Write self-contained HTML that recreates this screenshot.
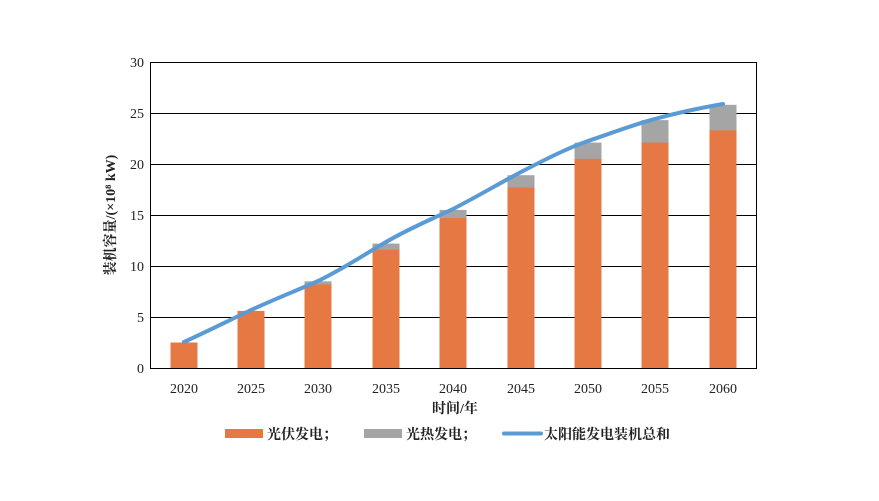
<!DOCTYPE html>
<html><head><meta charset="utf-8"><style>body{margin:0;background:#fff}svg{display:block}</style></head>
<body><svg width="879" height="501" xmlns="http://www.w3.org/2000/svg" font-family="'Liberation Serif','Noto Serif CJK SC',serif">
<rect width="879" height="501" fill="#fff"/>
<g stroke="#000" stroke-width="1">
<line x1="150" y1="62.5" x2="757" y2="62.5"/>
<line x1="150" y1="113.5" x2="757" y2="113.5"/>
<line x1="150" y1="164.5" x2="757" y2="164.5"/>
<line x1="150" y1="215.5" x2="757" y2="215.5"/>
<line x1="150" y1="266.5" x2="757" y2="266.5"/>
<line x1="150" y1="317.5" x2="757" y2="317.5"/>
<line x1="150" y1="368.5" x2="757" y2="368.5"/>
<line x1="150.5" y1="62" x2="150.5" y2="368"/>
<line x1="756.5" y1="62" x2="756.5" y2="368"/>
</g>
<g fill="#a5a5a5">
<rect x="304.5" y="281.3" width="27" height="4"/>
<rect x="372.5" y="243.6" width="27" height="7"/>
<rect x="439.5" y="209.9" width="27" height="9"/>
<rect x="507.5" y="175.2" width="27" height="13"/>
<rect x="574.5" y="142.6" width="27" height="17"/>
<rect x="641.5" y="120.1" width="27" height="23"/>
<rect x="709.5" y="104.8" width="27" height="26"/>
</g>
<g fill="#e67843">
<rect x="170.5" y="342.5" width="27" height="25.5"/>
<rect x="237.5" y="310.9" width="27" height="57.1"/>
<rect x="304.5" y="284.4" width="27" height="83.6"/>
<rect x="372.5" y="249.7" width="27" height="118.3"/>
<rect x="439.5" y="218.1" width="27" height="149.9"/>
<rect x="507.5" y="187.5" width="27" height="180.5"/>
<rect x="574.5" y="158.9" width="27" height="209.1"/>
<rect x="641.5" y="142.6" width="27" height="225.4"/>
<rect x="709.5" y="130.3" width="27" height="237.7"/>
</g>
<path d="M184,342 C210,330 230,320 251,310 C275,299 298,290 318,281 C345,268 365,254 386,242 C410,228 430,220 453,209 C480,195 500,183 521,172 C548,158 568,148 588,141 C615,132 635,124 655,119 C680,112 700,108 723,104" fill="none" stroke="#5b9bd5" stroke-width="4" stroke-linecap="round"/>
<g font-size="14" text-anchor="end" fill="#222">
<text x="144" y="67">30</text><text x="144" y="118">25</text><text x="144" y="169">20</text>
<text x="144" y="220">15</text><text x="144" y="271">10</text><text x="144" y="322">5</text><text x="144" y="373">0</text>
</g>
<g font-size="14" text-anchor="middle" fill="#222">
<text x="184" y="393">2020</text><text x="251" y="393">2025</text><text x="318" y="393">2030</text>
<text x="386" y="393">2035</text><text x="453" y="393">2040</text><text x="521" y="393">2045</text>
<text x="588" y="393">2050</text><text x="655" y="393">2055</text><text x="723" y="393">2060</text>
</g>
<text x="455" y="413" font-size="14" font-weight="bold" text-anchor="middle" fill="#222">时间/年</text>
<text transform="translate(115,215) rotate(-90)" font-size="14" font-weight="bold" text-anchor="middle" fill="#222">装机容量/(×10⁸ kW)</text>
<rect x="225" y="429" width="38" height="9" fill="#e67843"/>
<text x="267" y="439" font-size="14" font-weight="bold" fill="#222">光伏发电；</text>
<rect x="364" y="429" width="38" height="9" fill="#a5a5a5"/>
<text x="406" y="439" font-size="14" font-weight="bold" fill="#222">光热发电；</text>
<line x1="504" y1="433.5" x2="541" y2="433.5" stroke="#5b9bd5" stroke-width="4" stroke-linecap="round"/>
<text x="544" y="439" font-size="14" font-weight="bold" fill="#222">太阳能发电装机总和</text>
</svg></body></html>
